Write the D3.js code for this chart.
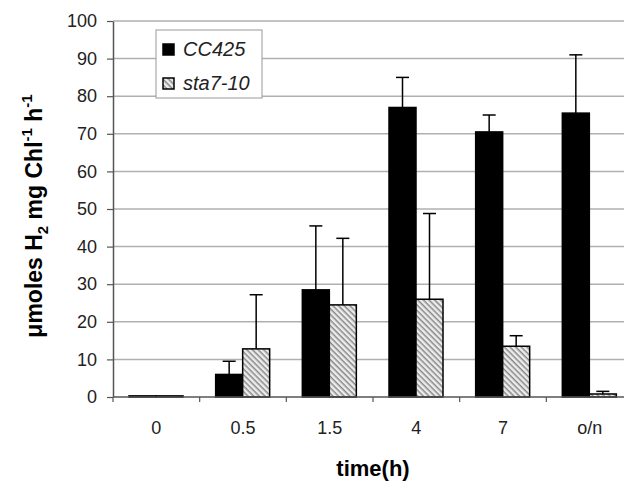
<html>
<head>
<script src="https://cdn.jsdelivr.net/npm/d3@7"></script>
<style>
body { margin: 0; background: white; font-family: "Liberation Sans", Arial, sans-serif; }
</style>
</head>
<body>
<div id="canvas"></div>
<script>
// data
var times = ["0", "0.5", "1.5", "4", "7", "o/n"];
var seriesNames = ["CC425", "sta7-10"];
var cc425 = [0.3, 6, 28.5, 77, 70.5, 75.5];
var cc425Err = [0, 3.5, 17, 8, 4.5, 15.5];
var sta = [0.3, 12.8, 24.5, 26, 13.5, 0.8];
var staErr = [0, 14.4, 17.7, 22.8, 2.8, 0.7];
var yTicks = [0, 10, 20, 30, 40, 50, 60, 70, 80, 90, 100];

var W = 624, H = 483;
var mLeft = 113, mRight = 633, mTop = 21, mBottom = 397;

var svg = d3.select("#canvas").append("svg").attr("width", W).attr("height", H);

var defs = svg.append("defs");
var pat = defs.append("pattern")
	.attr("id", "hatch")
	.attr("patternUnits", "userSpaceOnUse")
	.attr("width", 4).attr("height", 4)
	.attr("patternTransform", "rotate(45)");
pat.append("rect").attr("width", 4).attr("height", 4).attr("fill", "#ececec");
pat.append("rect").attr("width", 4).attr("height", 1.5).attr("fill", "#888");

var x = d3.scaleBand().domain(times).range([mLeft, mRight]);
var inner = d3.scaleBand().domain(seriesNames).range([16, 70]);
var y = d3.scaleLinear().domain([0, 100]).range([mBottom, mTop]);

// gridlines
svg.append("g").selectAll("line").data(yTicks.slice(1)).enter().append("line")
	.attr("x1", mLeft).attr("x2", mRight)
	.attr("y1", function(d){ return y(d); }).attr("y2", function(d){ return y(d); })
	.attr("stroke", "#b0b0b0").attr("stroke-width", 1.5);

var series = [
	{name: "CC425", vals: cc425, err: cc425Err, fill: "#000"},
	{name: "sta7-10", vals: sta, err: staErr, fill: "url(#hatch)"}
];

series.forEach(function(s){
	var g = svg.append("g");
	g.selectAll("rect").data(times).enter().append("rect")
		.attr("x", function(d){ return x(d) + inner(s.name); })
		.attr("width", inner.bandwidth())
		.attr("y", function(d, i){ return y(s.vals[i]); })
		.attr("height", function(d, i){ return mBottom - y(s.vals[i]); })
		.attr("fill", s.fill)
		.attr("stroke", "#000").attr("stroke-width", 1.5);
	var cx = function(d){ return x(d) + inner(s.name) + inner.bandwidth() / 2; };
	var eb = g.selectAll("g.err").data(times.filter(function(d, i){ return s.err[i] > 0; })).enter().append("g");
	eb.append("line")
		.attr("x1", cx).attr("x2", cx)
		.attr("y1", function(d){ var i = times.indexOf(d); return y(s.vals[i]); })
		.attr("y2", function(d){ var i = times.indexOf(d); return y(s.vals[i] + s.err[i]); })
		.attr("stroke", "#000").attr("stroke-width", 1.5);
	eb.append("line")
		.attr("x1", function(d){ return cx(d) - 6.5; }).attr("x2", function(d){ return cx(d) + 6.5; })
		.attr("y1", function(d){ var i = times.indexOf(d); return y(s.vals[i] + s.err[i]); })
		.attr("y2", function(d){ var i = times.indexOf(d); return y(s.vals[i] + s.err[i]); })
		.attr("stroke", "#000").attr("stroke-width", 1.5);
});

// y axis
var yAxis = svg.append("g").attr("transform", "translate(" + mLeft + ",0)")
	.call(d3.axisLeft(y).tickValues(yTicks).tickSize(6).tickSizeOuter(0).tickPadding(10));
yAxis.attr("font-size", 18).attr("font-family", "Liberation Sans, Arial, sans-serif");
yAxis.select(".domain").attr("stroke", "#555").attr("stroke-width", 1.5);
yAxis.selectAll(".tick line").attr("stroke", "#555").attr("stroke-width", 1.2);
yAxis.selectAll("text").attr("fill", "#222");

// x axis
var xAxis = svg.append("g").attr("transform", "translate(0," + mBottom + ")");
xAxis.append("line").attr("x1", mLeft).attr("x2", mRight).attr("stroke", "#555").attr("stroke-width", 1.5);
xAxis.selectAll("line.tk").data(times).enter().append("line")
	.attr("x1", function(d){ return x(d); }).attr("x2", function(d){ return x(d); })
	.attr("y1", 0).attr("y2", 5).attr("stroke", "#555").attr("stroke-width", 1.2);
xAxis.selectAll("text").data(times).enter().append("text")
	.attr("x", function(d){ return x(d) + x.bandwidth() / 2; })
	.attr("y", 37)
	.attr("text-anchor", "middle")
	.attr("font-size", 18).attr("fill", "#222")
	.text(function(d){ return d; });

// axis titles
svg.append("text")
	.attr("x", (mLeft + mRight) / 2).attr("y", 476)
	.attr("text-anchor", "middle")
	.attr("font-size", 22).attr("font-weight", "bold")
	.text("time(h)");

var yl = svg.append("text")
	.attr("transform", "translate(42,216) rotate(-90)")
	.attr("text-anchor", "middle")
	.attr("font-size", 23).attr("font-weight", "bold");
yl.append("tspan").text("\u03bcmoles H");
yl.append("tspan").attr("font-size", 15).attr("dy", 6).text("2");
yl.append("tspan").attr("dy", -6).text("  mg Chl");
yl.append("tspan").attr("font-size", 15).attr("dy", -10).text("-1");
yl.append("tspan").attr("dy", 10).text("  h");
yl.append("tspan").attr("font-size", 15).attr("dy", -10).text("-1");

// legend
var lg = svg.append("g");
lg.append("rect").attr("x", 156).attr("y", 30).attr("width", 106).attr("height", 68)
	.attr("fill", "white").attr("stroke", "#999").attr("stroke-width", 1);
series.forEach(function(s, i){
	lg.append("rect").attr("x", 163).attr("y", 44 + i * 34).attr("width", 11).attr("height", 11)
		.attr("fill", s.fill).attr("stroke", "#000").attr("stroke-width", 1.5);
	lg.append("text").attr("x", 183).attr("y", 56 + i * 34)
		.attr("font-size", 20).attr("font-style", "italic").attr("fill", "#222")
		.text(s.name);
});
</script>
</body>
</html>
